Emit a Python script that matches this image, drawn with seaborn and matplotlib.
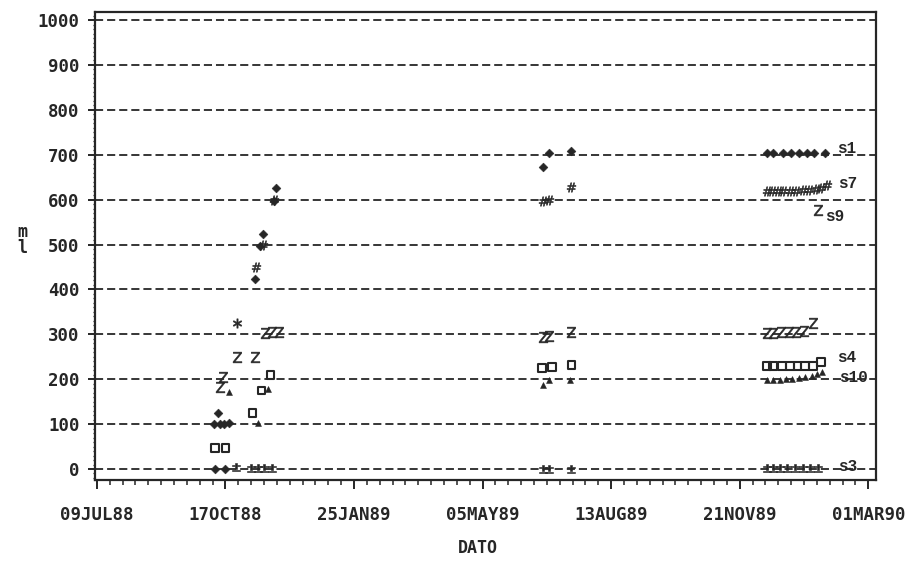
import numpy as np
import pandas as pd
import matplotlib
matplotlib.use("Agg")
import matplotlib.pyplot as plt
import matplotlib.dates as mdates
from matplotlib.ticker import FixedLocator, FuncFormatter, MultipleLocator
import seaborn as sns

sns.set_theme(style="white")
plt.rcParams["font.family"] = ["DejaVu Sans Mono"]

INK = "#262626"

# ---- measurements per site -------------------------------------------------
s1_dates = ["1988-10-09", "1988-10-08", "1988-10-11", "1988-10-13", "1988-10-16",
            "1988-10-17", "1988-10-20", "1988-11-09", "1988-11-13", "1988-11-15",
            "1988-11-24", "1988-11-25",
            "1989-06-21", "1989-06-26", "1989-07-13",
            "1989-12-12", "1989-12-17", "1989-12-25", "1989-12-31",
            "1990-01-06", "1990-01-12", "1990-01-18", "1990-01-26"]
s1_values = [0, 100, 124, 100, 100,
             0, 102, 423, 497, 523,
             597, 626,
             673, 704, 708,
             704, 704, 704, 704,
             704, 704, 704, 704]

s7_dates = ["1988-11-10", "1988-11-15", "1988-11-24",
            "1989-06-21", "1989-06-26", "1989-07-13",
            "1989-12-12", "1989-12-16", "1989-12-21", "1989-12-25", "1989-12-30",
            "1990-01-04", "1990-01-09", "1990-01-14", "1990-01-19", "1990-01-23",
            "1990-01-28"]
s7_values = [450, 498, 599,
             597, 600, 628,
             620, 620, 620, 620, 620,
             620, 621, 622, 624, 627,
             632]

s5_dates = ["1988-10-13", "1988-10-15", "1988-10-26", "1988-11-09", "1988-11-17",
            "1988-11-22", "1988-11-28",
            "1989-06-21", "1989-06-26", "1989-07-13",
            "1989-12-12", "1989-12-17", "1989-12-23", "1989-12-29", "1990-01-04",
            "1990-01-10", "1990-01-17"]
s5_values = [183, 205, 250, 250, 303,
             305, 305,
             294, 296, 305,
             304, 304, 305, 305, 306,
             307, 325]

s9_dates = ["1990-01-21"]
s9_values = [578]

s4_dates = ["1988-10-09", "1988-10-17", "1988-11-07", "1988-11-14", "1988-11-21",
            "1989-06-20", "1989-06-28", "1989-07-13",
            "1989-12-12", "1989-12-17", "1989-12-24", "1989-12-30",
            "1990-01-05", "1990-01-11", "1990-01-17", "1990-01-23"]
s4_values = [47, 47, 125, 175, 210,
             225, 227, 232,
             229, 229, 229, 229,
             229, 229, 230, 238]

s10_dates = ["1988-10-20", "1988-11-11", "1988-11-19",
             "1989-06-21", "1989-06-26", "1989-07-12",
             "1989-12-12", "1989-12-17", "1989-12-22", "1989-12-27",
             "1990-01-01", "1990-01-06", "1990-01-11", "1990-01-16",
             "1990-01-20", "1990-01-24"]
s10_values = [171, 102, 178,
              187, 198, 198,
              198, 198, 199, 200,
              201, 203, 205, 208,
              212, 216]

s3_dates = ["1988-10-25", "1988-11-06", "1988-11-11", "1988-11-16", "1988-11-22",
            "1989-06-21", "1989-06-26", "1989-07-13",
            "1989-12-12", "1989-12-17", "1989-12-22", "1989-12-28",
            "1990-01-03", "1990-01-09", "1990-01-15", "1990-01-21"]
s3_values = [5, 2, 2, 2, 2,
             0, 0, 0,
             3, 3, 3, 3,
             3, 3, 3, 3]

s6_dates = ["1988-10-26"]
s6_values = [325]

# name, dates, values, marker, size, hollow
sites = [
    ("s1", s1_dates, s1_values, "D", 20, False),
    ("s7", s7_dates, s7_values, r"$\#$", 45, False),
    ("s5", s5_dates, s5_values, r"$\mathsf{Z}$", 60, False),
    ("s9", s9_dates, s9_values, r"$\mathsf{Z}$", 60, False),
    ("s4", s4_dates, s4_values, "s", 30, True),
    ("s10", s10_dates, s10_values, "^", 18, False),
    ("s3", s3_dates, s3_values, r"$\pm$", 40, False),
    ("s6", s6_dates, s6_values, r"$\ast$", 45, False),
]

# labels written next to the last reading of a site: (site, dx pt, dy pt)
end_labels = [("s1", 9, 3), ("s7", 8, 1), ("s9", 5, -5), ("s4", 12, 3),
              ("s10", 12, -4), ("s3", 14, 1)]

x_start = pd.Timestamp("1988-07-09")
x_ticks = [x_start + pd.Timedelta(days=100 * k) for k in range(7)]
y_ticks = list(range(0, 1001, 100))

# ---- figure -----------------------------------------------------------------
fig = plt.figure(figsize=(9.12, 5.64), dpi=100)
ax = fig.add_axes([95 / 912, 1 - 480 / 564, (876 - 95) / 912, (480 - 12) / 564])

last_points = {}
for name, d, v, mk, size, hollow in sites:
    df = pd.DataFrame({"DATO": pd.to_datetime(d), "m": v})
    kws = dict(data=df, x="DATO", y="m", marker=mk, s=size, ax=ax, legend=False,
               zorder=3)
    if hollow:
        sns.scatterplot(**kws, facecolor="none", edgecolor=INK, linewidth=1.5)
    else:
        sns.scatterplot(**kws, color=INK, edgecolor=INK, linewidth=0.4)
    last_points[name] = (df["DATO"].iloc[-1], df["m"].iloc[-1])

for name, dx, dy in end_labels:
    xd, yv = last_points[name]
    ax.annotate(name, xy=(mdates.date2num(xd), yv), xytext=(dx, dy),
                textcoords="offset points", ha="left", va="center",
                fontsize=11.5, fontweight="bold", family="Liberation Mono",
                color=INK)

# ---- axes -------------------------------------------------------------------
ax.set_xlim(mdates.date2num(x_start - pd.Timedelta(days=1.5)),
            mdates.date2num(pd.Timestamp("1990-03-07")))
ax.set_ylim(-24.5, 1018)

ax.xaxis.set_major_locator(FixedLocator(mdates.date2num(x_ticks)))
ax.xaxis.set_minor_locator(FixedLocator(
    mdates.date2num([x_start + pd.Timedelta(days=10 * k) for k in range(61)])))
ax.xaxis.set_major_formatter(FuncFormatter(
    lambda v, p: mdates.num2date(v).strftime("%d%b%y").upper()))

ax.yaxis.set_major_locator(FixedLocator(y_ticks))
ax.yaxis.set_minor_locator(MultipleLocator(10))
ax.yaxis.set_major_formatter(FuncFormatter(lambda v, p: f"{int(round(v))}"))

ax.yaxis.grid(True, which="major", linestyle=(0, (4.5, 2.2)), color=INK,
              linewidth=1.3)
ax.xaxis.grid(False)
ax.set_axisbelow(True)

for sp in ax.spines.values():
    sp.set_visible(True)
    sp.set_color(INK)
    sp.set_linewidth(1.6)

ax.tick_params(axis="x", which="major", direction="out", length=6.5, width=1.4,
               color=INK, pad=12, labelsize=12.5, labelcolor=INK)
ax.tick_params(axis="x", which="minor", direction="out", length=3.5, width=1.1,
               color=INK)
ax.tick_params(axis="y", which="major", direction="out", length=5, width=1.4,
               color=INK, pad=6, labelsize=12.5, labelcolor=INK)
ax.tick_params(axis="y", which="minor", direction="out", length=1.8, width=0.9,
               color=INK)
ax.tick_params(bottom=True, left=True, which="both")
for lab in ax.get_xticklabels() + ax.get_yticklabels():
    lab.set_fontweight("bold")

ax.set_xlabel("DATO", fontsize=12, fontweight="bold", color=INK)
ax.xaxis.set_label_coords((478 - 95) / 781, -(548 - 480) / 468)
ax.xaxis.label.set_va("center")

ax.set_ylabel("m\nl", rotation=0, fontsize=12, fontweight="bold", color=INK,
              linespacing=0.8)
ax.yaxis.set_label_coords(-(95 - 22) / 781, (480 - 240) / 468)
ax.yaxis.label.set_va("center")
ax.yaxis.label.set_ha("center")

fig.savefig("out.png", dpi=100, facecolor="white")
